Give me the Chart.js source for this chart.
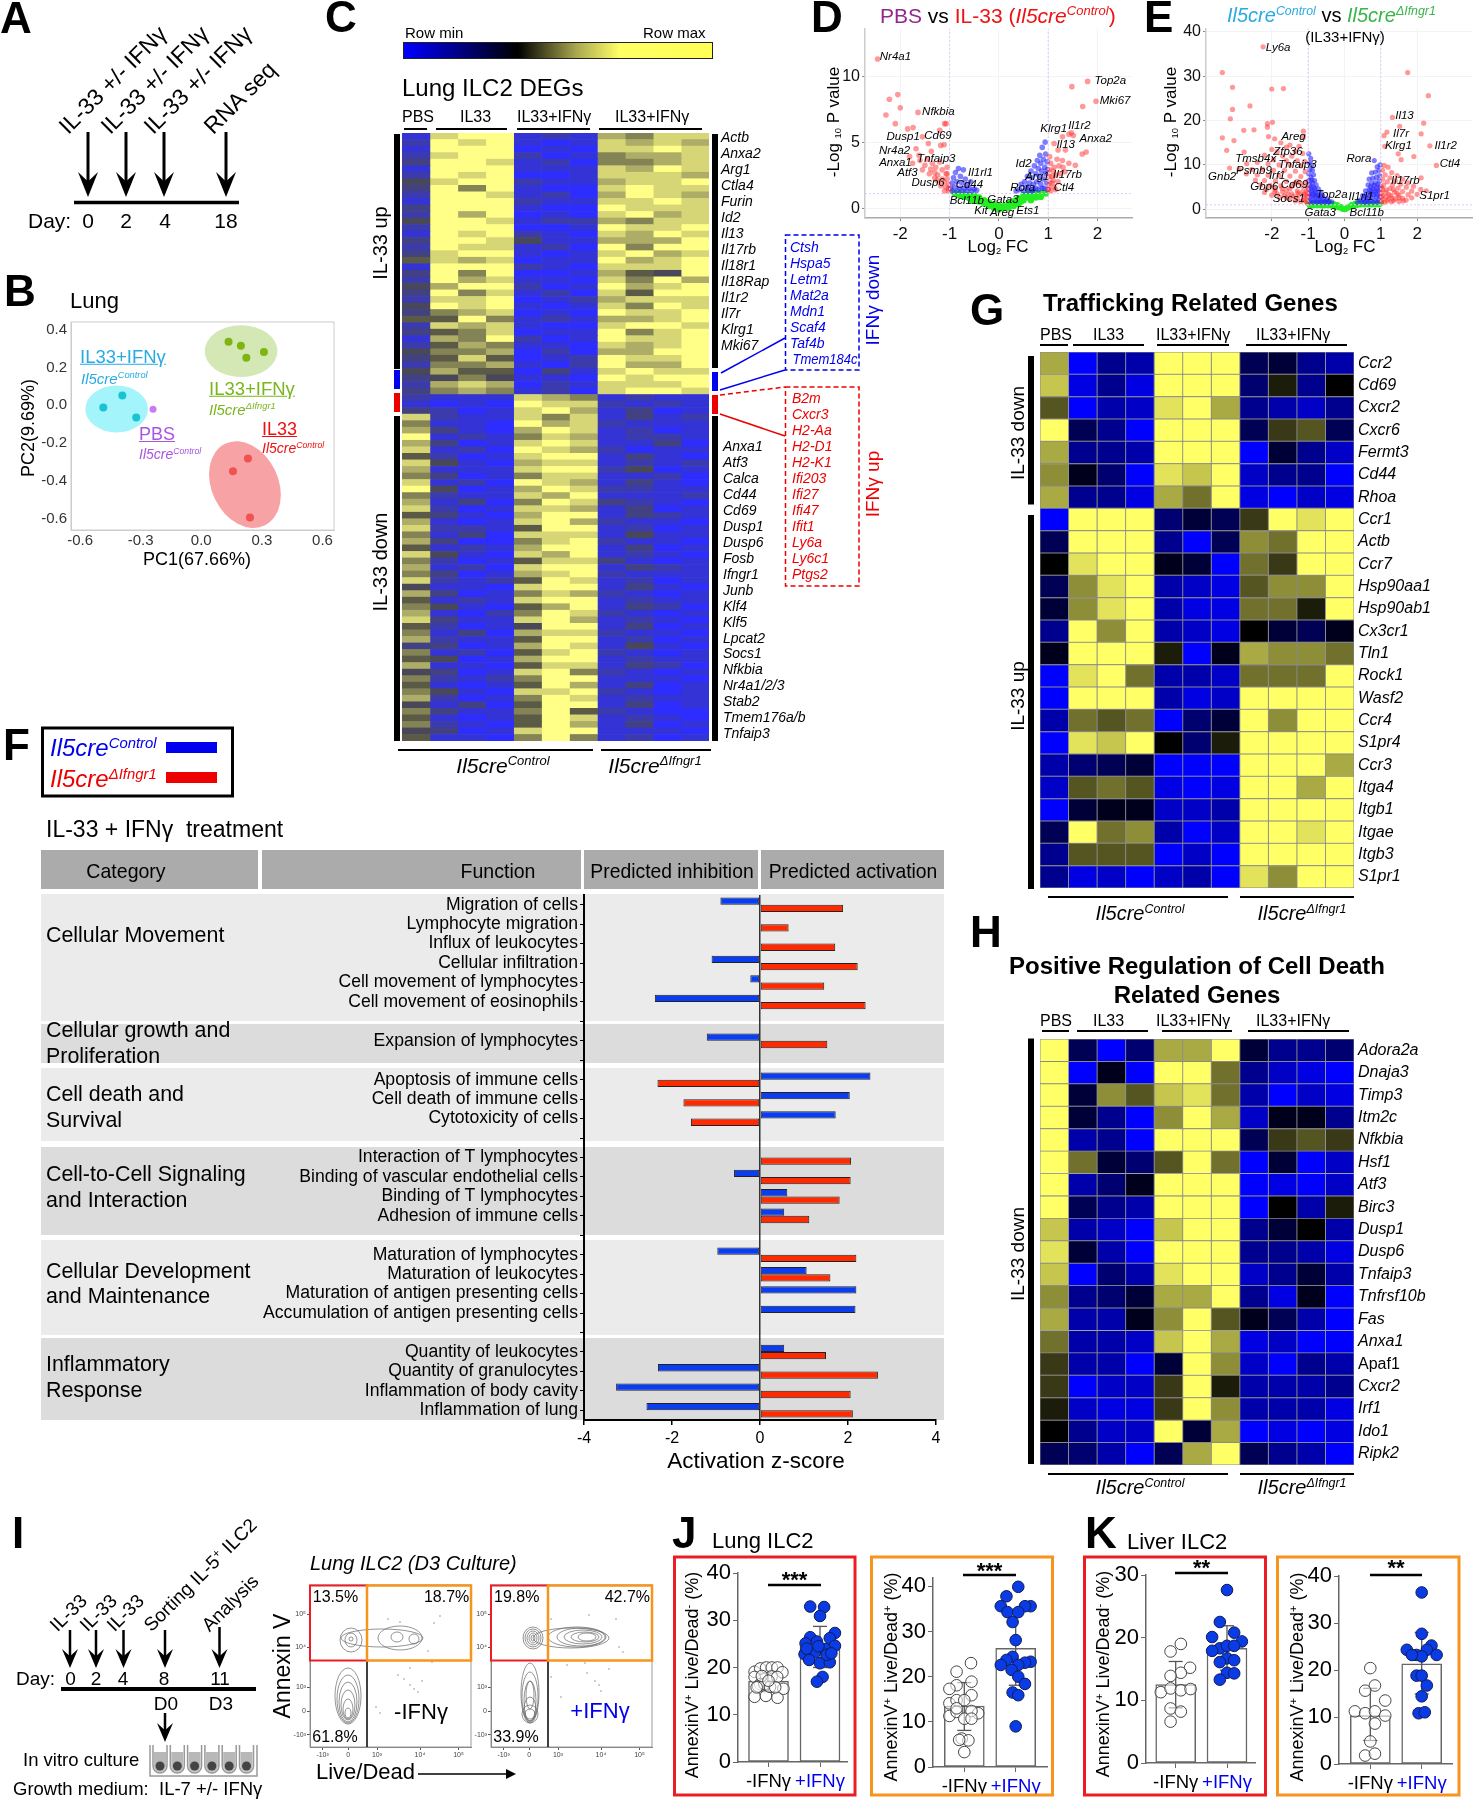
<!DOCTYPE html>
<html><head><meta charset="utf-8">
<script src="https://cdn.jsdelivr.net/npm/chart.js@4"></script>
<style>
html,body{margin:0;background:#fff}
#page{position:relative;width:1474px;height:1800px;overflow:hidden;font-family:'Liberation Sans',Arial,sans-serif;color:#000;background:#fff}
.t{position:absolute;white-space:nowrap;line-height:1;z-index:5}
.r{position:absolute}
sup{font-size:62%;line-height:0;vertical-align:.55em}
sub{font-size:55%;line-height:0;vertical-align:-.25em}
canvas{position:absolute}
svg{position:absolute;left:0;top:0;z-index:4;pointer-events:none}
</style></head><body><div id="page"></div>
<script>
// ---------- DATA ----------
// B: PCA
const pcaBlue=[[-.485,-.012],[-.391,.051],[-.322,-.065]];
const pcaPbs=[[-.239,-.022]];
const pcaGreen=[[.135,.335],[.196,.314],[.223,.251],[.31,.282]];
const pcaRed=[[.231,-.282],[.157,-.349],[.241,-.594]];
const pcaXTicks=[-.6,-.3,0,.3,.6], pcaYTicks=[.4,.2,0,-.2,-.4,-.6];
// C: large heat map, one digit per cell (0 = row min, 9 = row max)
const heatCRows=[
"1 899 121 7688","2 989 101 8787","1 999 010 8898","2 899 201 6778","3 998 120 6678","1 999 111 8798","2 989 001 8887","4 899 211 7889",
"3 969 100 8988","2 998 120 7987","1 999 211 8898","3 999 100 9888","2 979 010 8978","4 998 122 7688","2 999 001 9889","1 989 210 8798",
"3 998 411 7779","2 988 120 9699","3 899 101 8978","5 878 011 9789","1 999 210 8889","3 969 001 7549","2 978 110 8697","4 799 201 9789",
"3 968 120 8599","2 889 012 7888","4 989 101 8698","3 678 010 9889","5 596 121 7789","2 878 100 8998","3 568 011 9689","1 769 201 9889",
"2 576 110 8789","4 667 020 7799","3 585 012 9889","2 667 102 9779","4 755 031 8988","3 464 110 9899","2 787 021 8889","3 676 120 8998",
"2 111 876 1211","1 010 988 2121","3 201 897 1301",
"8 211 868 1312","6 110 978 2111","7 310 798 1201","9 121 687 1221","7 301 898 1130","8 120 987 2011","5 201 899 1310","8 410 788 1212",
"7 111 899 2401","6 301 688 1120","8 120 987 1310","9 401 798 2211","6 211 879 1112","7 130 698 3210","8 201 887 1301","5 310 799 1321",
"7 101 897 2110","8 221 599 1201","6 130 888 1411","7 300 689 2110","5 121 799 1301","8 410 879 1210","6 201 588 3101","7 120 899 1321",
"6 301 789 2111","8 212 598 1201","4 110 899 1310","7 301 687 2101","5 121 899 1211","6 410 579 1320","7 102 698 2101","8 311 897 1210",
"5 201 499 1301","6 130 788 2110","7 211 599 1201","3 301 798 1410","6 120 589 2101","5 401 799 1211","7 110 588 1320","4 301 896 2101",
"6 212 699 1110","5 101 597 1301","6 410 889 2101","7 201 698 1211","4 130 599 1301","6 311 695 2100","5 101 598 1210","6 210 597 1301",
"4 301 899 1110","5 110 696 1201"];
const genesCUp=["Actb","Anxa2","Arg1","Ctla4","Furin","Id2","Il13","Il17rb","Il18r1","Il18Rap","Il1r2","Il7r","Klrg1","Mki67"];
const genesCDown=["Anxa1","Atf3","Calca","Cd44","Cd69","Dusp1","Dusp6","Fosb","Ifngr1","Junb","Klf4","Klf5","Lpcat2","Socs1","Nfkbia","Nr4a1/2/3","Stab2","Tmem176a/b","Tnfaip3"];
const genesIfnDown=["Ctsh","Hspa5","Letm1","Mat2a","Mdn1","Scaf4","Taf4b","Tmem184c"];
const genesIfnUp=["B2m","Cxcr3","H2-Aa","H2-D1","H2-K1","Ifi203","Ifi27","Ifi47","Ifit1","Ly6a","Ly6c1","Ptgs2"];
// D: volcano
const dRed=[[-2.46,11.3],[-2.05,8.6],[-2.22,8.25],[-2.0,7.6],[-2.29,7.05],[-2.1,6.4],[-1.64,7.25],[-1.74,6.1],[-1.85,6.0],[-1.2,5.9],[-1.1,6.4],[-1.07,6.4],[-1.55,5.4],[-1.43,4.9],[-1.68,4.5],[-1.11,4.8],[-1.37,4.3],[-1.18,4.75],[-1.81,3.9],[-1.75,3.4],[-1.5,3.25],[-1.28,3.1],[-1.41,2.6],[-1.24,2.5],[-1.07,2.6],[-1.11,2.0],[-1.02,1.5],[-1.6,3.6],[-1.45,3.7],[-1.35,3.4],[-1.2,3.5],[-1.15,2.9],[-1.3,2.7],[-1.05,3.1],[-1.05,2.2],[-1.15,2.2],[-1.02,1.8],[-1.08,1.6],[-1.25,2.1],[-1.38,2.95],[-1.55,2.9],[-1.62,4.0],[-1.02,1.3],[-1.1,1.3],[-1.18,1.7],[-1.3,2.3],[-1.05,2.6],
[1.8,9.6],[1.48,9.2],[1.97,8.1],[1.7,7.7],[1.47,5.7],[1.51,5.5],[1.42,5.6],[1.29,5.4],[1.69,4.1],[1.77,4.25],[1.12,4.9],[1.2,4.4],[1.03,3.9],[1.29,3.6],[1.42,3.4],[1.55,3.25],[1.12,3.1],[1.25,2.6],[1.07,2.4],[1.03,1.9],[1.2,2],[1,1.4],[1.34,2.75],[1.12,1.6],[1.05,3.4],[1.18,3.7],[1.35,4.4],[1.02,2.9],[1.1,2.1],[1.15,1.4],[1.05,1.3],[1.02,1.6],[1.08,1.9],[1.15,2.5],[1.22,3.2],[1.3,3.1],[1.02,2.4],[1.1,2.8]];
const dBlue=[[-.98,1.5],[-.95,1.9],[-.92,2.3],[-.9,1.6],[-.88,2.7],[-.85,2.0],[-.82,3.0],[-.8,1.5],[-.78,2.4],[-.75,1.9],[-.72,2.9],[-.7,1.5],[-.68,2.2],[-.65,1.8],[-.6,1.5],[-.57,2.0],[-.5,1.45],[-.45,1.35],[-.95,1.3],[-.85,1.3],[-.75,1.3],[-.65,1.3],[-.55,1.3],
[.35,1.3],[.42,1.4],[.45,1.8],[.5,1.3],[.52,2.0],[.55,1.6],[.58,2.4],[.6,1.3],[.62,1.9],[.65,2.8],[.67,2.3],[.7,1.4],[.7,1.8],[.72,3.2],[.75,2.6],[.77,2.0],[.78,3.6],[.8,1.4],[.8,3.0],[.82,2.4],[.83,4.0],[.85,1.8],[.85,3.4],[.87,2.8],[.88,4.6],[.9,2.2],[.9,3.7],[.92,1.5],[.93,3.1],[.94,5.0],[.95,2.6],[.95,4.1],[.97,1.9],[.98,3.5],[.98,2.9],[.99,1.4],[.6,1.6],[.75,1.5],[.88,1.5],[.68,1.3]];
const dGreen=[[-.9,1.15],[-.8,1.1],[-.8,.95],[-.7,1.05],[-.7,.85],[-.6,1],[-.6,.75],[-.5,.95],[-.5,.7],[-.45,.55],[-.4,.8],[-.4,.5],[-.3,.6],[-.3,.35],[-.2,.45],[-.2,.15],[-.1,.3],[-.1,0],[0,.2],[0,-.1],[.1,.15],[.1,0],[.2,.4],[.2,.05],[.3,.5],[.3,.15],[.4,.75],[.4,.3],[.5,1],[.5,.6],[.6,1.15],[.6,.8],[.7,1.15],[.7,.95],[.8,1.15],[.9,1.15],[.85,1],[.95,1.1],[.55,.9],[.75,.8],[.65,.6],[.45,.5],[-.55,.6],[-.25,.3],[.25,.3],[.05,.05],[-.05,.1],[.35,.6],[.85,.85]];
const dLabels=[["Nr4a1",222,170],["Top2a",722,243],["Mki67",733,302],["Nfkbia",322,337],["Dusp1",240,410],["Cd69",321,408],["Nr4a2",220,454],["Tnfaip3",317,478],["Anxa1",222,488],["Atf3",250,518],["Dusp6",298,548],["Il1rl1",420,518],["Cd44",394,556],["Bcl11b",388,602],["Gata3",472,600],["Kit",421,634],["Areg",470,640],["Ets1",530,634],["Rora",518,563],["Arg1",552,530],["Id2",520,493],["Klrg1",590,387],["Il1r2",650,377],["Il13",618,435],["Anxa2",688,416],["Il17rb",622,525],["Ctl4",614,564]];
// E: volcano
const eRed=[[-2.24,36.6],[-3.36,30.8],[-3.08,27.5],[-2,27.1],[-1.68,27.2],[-2.6,23.3],[-3.08,22.5],[-3.14,20.4],[-1.98,19.6],[-2.12,19.3],[-2.12,18.5],[-2.77,17.8],[-2.49,17.9],[-3.36,16.1],[-3.04,15.5],[-3.24,13.3],[-2.09,16.4],[-1.92,15.9],[-1.13,17.6],[-1.13,16.3],[-2.76,12.9],[-3.16,9.3],[-2.69,10.3],[-1.75,15],[-1.5,14.5],[-1.6,14],[-1.25,14.2],[-2.0,13.5],[-1.85,13],[-1.35,13],[-1.15,12.6],[-2.2,12.2],[-1.7,12],[-1.45,12],[-1.95,11.2],[-1.6,11],[-1.3,11],[-1.1,10.8],[-2.4,10.6],[-2.1,10.3],[-1.8,10],[-1.5,10],[-1.2,9.8],[-2.9,9],[-2.55,9],[-2.25,9],[-1.95,8.8],[-1.65,8.8],[-1.35,8.6],[-1.08,8.5],[-2.7,8],[-2.4,7.8],[-2.1,7.7],[-1.8,7.6],[-1.5,7.5],[-1.2,7.4],[-2.45,6.6],[-2.2,6.5],[-1.9,6.4],[-1.6,6.3],[-1.3,6.3],[-1.05,6.2],[-2.3,5.5],[-2.05,5.4],[-1.75,5.3],[-1.45,5.2],[-1.15,5.2],[-2.15,4.5],[-1.9,4.4],[-1.6,4.3],[-1.3,4.2],[-1.05,4.2],[-1.85,3.5],[-1.55,3.4],[-1.25,3.3],[-1.05,3.2],[-1.6,2.6],[-1.3,2.5],[-1.1,2.4],[-1.2,1.8],[-1.05,1.7],[-1.4,3],[-1.7,3.9],[-1.95,5],[-1.15,4],[-1.02,2.8],
[-2.0,3.2],[-1.78,2.7],[-1.5,2.3],[-1.35,1.9],[-1.12,2.1],[-1.02,1.5],[-1.28,3.7],[-1.5,4.6],[-1.72,4.7],[-1.38,5.8],[-1.12,3.4],[-1.02,3.7],[-1.02,5],[-1.22,5.9],[-1.45,3.5],[-1.65,3.1],[-1.92,3.9],[-2.2,3.8],
[1.74,30.8],[2.31,25.6],[1.32,20.7],[1.52,18.7],[2.18,19.4],[2.11,17],[1.17,17.4],[1.09,16.6],[2.35,14.3],[1.11,14.2],[1.48,12.5],[1.91,11.9],[1.56,11.2],[2.53,9.9],[2.11,7.1],[1.09,9.9],[1.2,9.5],[1.05,8.8],[1.3,8.3],[1.12,7.8],[1.45,7.6],[1.25,7.1],[1.05,6.8],[1.6,6.8],[1.4,6.4],[1.18,6.2],[1.75,6],[1.55,5.7],[1.32,5.5],[1.08,5.5],[1.9,5.2],[1.7,5],[1.48,4.8],[1.25,4.7],[1.05,4.5],[2.1,4.5],[2.25,4.2],[1.85,4.1],[1.6,4],[1.38,3.9],[1.15,3.8],[2.0,3.4],[1.75,3.3],[1.5,3.2],[1.28,3.1],[1.05,3.1],[1.85,2.6],[1.6,2.5],[1.4,2.4],[1.2,2.3],[1.05,2.2],[1.5,1.8],[1.3,1.7],[1.1,1.6],[1.7,2.1],
[1.02,1.7],[1.18,1.9],[1.35,2],[1.62,1.9],[1.02,2.8],[1.15,2.8],[1.3,2.6],[1.5,2.6],[1.02,3.8],[1.22,3.4],[1.45,3.6],[1.02,5],[1.15,4.4],[1.35,4.5]];
const eBlue=[[-.98,12.5],[-.93,11.5],[-.97,10.5],[-.9,10],[-.95,9],[-.88,8.8],[-.98,8],[-.85,7.8],[-.92,7.2],[-.98,6.5],[-.82,6.5],[-.88,6],[-.95,5.5],[-.78,5.5],[-.85,5],[-.98,4.6],[-.72,4.6],[-.9,4.2],[-.8,4],[-.65,3.9],[-.97,3.5],[-.85,3.3],[-.72,3.2],[-.6,3.1],[-.95,2.7],[-.82,2.6],[-.7,2.5],[-.58,2.4],[-.48,2.3],[-.95,2],[-.83,2],[-.72,1.9],[-.62,1.9],[-.52,1.9],[-.42,1.8],[-.35,1.7],[-.95,1.6],[-.85,1.6],[-.75,1.6],[-.65,1.6],[-.55,1.6],[-.45,1.6],[-.9,3],[-.78,3],[-.66,2.9],[-.9,3.8],[-.78,3.6],[-.92,5],[-.82,4.6],[-.9,6.6],
[.98,10],[.9,9.6],[.82,11],[.95,8.8],[.85,8.4],[.75,8.2],[.97,7.6],[.88,7.2],[.78,7],[.68,6.8],[.96,6.4],[.85,6],[.75,5.8],[.65,5.5],[.98,5.2],[.88,4.9],[.78,4.7],[.68,4.4],[.58,4.2],[.95,4.1],[.85,3.8],[.72,3.6],[.6,3.4],[.5,3.1],[.97,3],[.88,2.8],[.76,2.7],[.64,2.5],[.52,2.3],[.42,2.1],[.95,2.1],[.85,2],[.72,1.9],[.6,1.8],[.48,1.7],[.36,1.6],[.92,1.6],[.8,1.6],[.66,1.6],[.55,1.6],[.9,3.3],[.8,3.3],[.7,3],[.58,2.8],[.92,4.4],[.82,4.2],[.72,4.1],[.92,5.6],[.82,5.4],[.72,5.1]];
const eGreen=[[-1,1.4],[-.9,1.4],[-.8,1.4],[-.7,1.4],[-.6,1.4],[-.5,1.4],[-.4,1.3],[-.3,1.2],[-.2,1],[-.1,.6],[-.95,.9],[-.85,.9],[-.75,.9],[-.65,.9],[-.55,.9],[-.45,.9],[-.35,.8],[-.25,.6],[-.15,.4],[-.05,.1],[0,.05],[.05,.15],[.15,.5],[.25,.8],[.35,1],[.45,1.1],[.55,1.1],[.65,1.1],[.75,1.1],[.85,1.1],[.95,1.1],[.1,.6],[.2,1],[.3,1.3],[.4,1.4],[.5,1.4],[.6,1.4],[.7,1.4],[.8,1.4],[.9,1.4],[1,1.4]];
const eLabels=[["Ly6a",1112,145],["Il13",1406,347],["Il7r",1398,402],["Klrg1",1392,438],["Il1r2",1502,437],["Ctl4",1512,491],["Areg",1148,412],["Zfp36",1135,455],["Tmsb4x",1060,478],["Tnfaip3",1157,496],["Rora",1300,478],["Psmb9",1056,512],["Gnb2",982,530],["Irf1",1110,527],["Il17rb",1408,542],["Gbp6",1080,560],["Cd69",1150,556],["Top2a",1237,586],["Il1rl1",1305,592],["S1pr1",1476,588],["Socs1",1137,597],["Gata3",1210,638],["Bcl11b",1318,640]];
// F: bars
const fLabels=["Migration of cells","Lymphocyte migration","Influx of leukocytes","Cellular infiltration","Cell movement of lymphocytes","Cell movement of eosinophils","","Expansion of lymphocytes","","Apoptosis of immune cells","Cell death of immune cells","Cytotoxicity of cells","","Interaction of T lymphocytes","Binding of vascular endothelial cells","Binding of T lymphocytes","Adhesion of immune cells","","Maturation of lymphocytes","Maturation of leukocytes","Maturation of antigen presenting cells","Accumulation of antigen presenting cells","","Quantity of leukocytes","Quantity of granulocytes","Inflammation of body cavity","Inflammation of lung"];
const fControl=[-.9,null,null,-1.1,-.22,-2.39,null,-1.21,null,2.51,2.04,1.72,null,null,-.59,.62,.55,null,-.97,1.06,2.19,2.17,null,.55,-2.32,-3.27,-2.58];
const fKO=[1.89,.65,1.71,2.22,1.46,2.4,null,1.53,null,-2.33,-1.74,-1.57,null,2.07,2.06,1.81,1.12,null,2.19,1.6,null,null,null,1.5,2.68,2.06,2.11];
const fXTicks=[-4,-2,0,2,4];
// G / H: heat maps (-9 = blue, 0 = black, 9 = yellow)
const genesG=["Ccr2","Cd69","Cxcr2","Cxcr6","Fermt3","Cd44","Rhoa","Ccr1","Actb","Ccr7","Hsp90aa1","Hsp90ab1","Cx3cr1","Tln1","Rock1","Wasf2","Ccr4","S1pr4","Ccr3","Itga4","Itgb1","Itgae","Itgb3","S1pr1"];
const heatG=[[6,-9,-5,-6,9,9,9,-3,-2,-5,-6],[7,-8,-5,-8,9,9,9,-4,1,-5,0],[3,-9,-6,-7,8,9,6,-5,-6,-7,-5],[9,-3,-5,-9,9,9,9,-3,2,3,-3],[6,-5,-5,-6,9,9,9,-9,-2,-5,-7],[5,-1,-4,-9,8,7,9,-7,-5,-5,-9],[6,-5,-5,-8,6,4,9,-8,-9,-7,-8],
[-9,9,9,9,-4,-2,-3,2,9,8,9],[-3,9,9,9,-5,-9,-3,5,4,9,9],[0,8,9,9,-1,-2,-9,4,2,9,9],[-3,5,8,9,-6,-7,-8,3,5,5,9],[-2,5,8,9,-6,-8,-8,4,4,1,9],[-5,9,5,9,-6,-7,-8,0,-2,-3,-1],[-1,9,9,9,1,-9,-1,6,5,5,4],[-9,8,9,4,-6,-6,-7,4,4,4,9],[-9,9,9,9,-6,-8,-7,9,9,9,9],[-6,4,3,4,-9,-4,-2,9,5,9,9],[-9,8,7,9,0,-4,1,9,9,9,9],[-6,-4,-3,-2,-9,-9,-9,9,9,9,6],[-7,3,4,3,-8,-9,-8,9,9,6,9],[-9,-2,-1,-1,-7,-7,-6,9,9,9,9],[-3,9,4,5,-6,-9,-7,9,9,8,9],[-5,3,3,3,-9,-7,-9,9,9,9,9],[-5,-8,-7,-9,-7,-6,-9,8,5,9,9]];
const genesH=["Adora2a","Dnaja3","Timp3","Itm2c","Nfkbia","Hsf1","Atf3","Birc3","Dusp1","Dusp6","Tnfaip3","Tnfrsf10b","Fas","Anxa1","Apaf1","Cxcr2","Irf1","Ido1","Ripk2"];
const heatH=[[9,-3,-9,-4,6,6,9,-2,-5,-5,-4],[9,-9,-1,-9,9,9,4,-5,-7,-8,-9],[9,-2,5,3,7,8,4,-6,-9,-7,-8],[9,-2,-5,-9,5,9,6,-7,-1,-1,-5],[9,-6,-5,-9,9,9,9,-3,2,3,2],[9,4,-2,-4,3,9,4,-9,-2,-9,-7],[9,-6,-4,-1,9,9,9,-9,-8,-9,-7],[9,-3,-5,-6,9,9,9,-9,0,-6,1],[7,-6,-7,-9,7,9,9,-5,-2,0,-6],[8,-2,-6,-9,9,9,9,-5,-5,-6,-8],[7,-9,-4,-6,8,9,9,-7,-5,-2,-6],[5,-5,-4,-2,6,6,9,-5,-8,-1,-9],[6,-6,-6,-1,5,9,3,-1,-3,-6,-9],[4,-6,-6,-7,7,9,6,-8,-7,-9,-9],[2,-6,-6,-9,-2,9,5,-7,-9,-5,-6],[2,-9,-7,-7,2,9,1,-6,-6,-6,-5],[1,-7,-8,-8,2,9,5,-6,-6,-6,-8],[0,-5,-7,-7,9,-2,6,-9,-8,-9,-8],[-3,-4,-6,-9,-3,6,9,-3,-5,-6,-9]];
// I: flow plots
const flowXTicks=[12.6,38.3,67,110,148.5], flowYTicks=[12.3,35.6,59.6,100,133];
const flowXLabels=["-10³","0","10³","10⁴","10⁵"], flowYLabels=["-10³","0","10³","10⁴","10⁵"];
const flowEllA=[[38,51,13,28],[38,48,11,24],[38,45,9,20],[38,42,7,15],[38,38,5,10],[38,34,3,5],[41,107,11,12],[41,107,6,7],[41,108,2,2],[72,109,41,9],[87,110,6,5],[104,108,5,5],[90,109,22,12]];
const flowEllB=[[39,54,9,30],[39,50,8,25],[39,46,6,20],[39,52,4,14],[39,38,6,12],[39,33,8,9],[39,33,5,5],[42,109,10,11],[42,109,8,9],[42,109,6,7],[42,109,4,5],[42,109,2,3],[86,110,29,10],[90,110,24,9],[92,110,19,7],[94,110,14,5],[96,110,9,4],[80,109,38,10]];
const flowDotsA=[[78,128],[90,125],[124,124],[130,131],[88,72],[94,68],[100,62],[104,58],[108,55],[112,66],[100,79],[70,34],[66,40],[122,85],[118,96]];
const flowDotsB=[[60,128],[98,132],[125,128],[128,100],[132,95],[96,74],[104,66],[108,62],[94,84],[76,82],[110,56],[118,78],[60,70],[70,50]];
// J / K: bars and dots
const groupLabels=["-IFNγ","+IFNγ"];
const j1Means=[17.1,24.3], j1Err=[[14.9,19.3],[20,28.7]], j1Ticks=[0,10,20,30,40];
const j1Open=[[-.27,19.1],[-.16,19.8],[-.045,20],[.065,20],[.175,20],[.27,19],[-.27,13.8],[-.05,14],[.175,13.6],[.29,15.5],[-.27,18],[-.16,16.5],[-.2,16],[-.08,16.5],[.06,18.1],[.17,18],[.03,15.9],[-.23,15.8],[.13,15.8],[-.13,18.2],[0,17.2]];
const j1Fill=[[-.19,32.9],[.08,32.8],[0,30.9],[.29,27.3],[.19,26.2],[-.19,26.4],[-.06,25.5],[-.28,25.1],[.29,24.6],[.1,23.9],[-.1,23.2],[-.3,22.8],[-.21,21.6],[0,20.9],[.19,21.1],[.05,18],[-.06,17],[-.26,24],[.13,22.7],[-.03,24.5],[.22,23]];
const j2Means=[13.5,26.3], j2Err=[[8.1,18.7],[18.1,34.5]], j2Ticks=[0,10,20,30,40];
const j2Open=[[.13,23],[-.15,21.1],[.14,18.9],[-.15,18.1],[-.29,17.3],[.14,15.9],[-.29,14.1],[-.15,14.8],[0,14.8],[.27,11.9],[.14,12.4],[-.29,11.3],[-.15,12.2],[0,10.7],[.14,10.7],[-.15,13],[-.05,6.3],[.08,5.9],[-.1,6],[0,3.3]];
const j2Fill=[[.05,39.9],[-.18,37.8],[-.29,35.6],[.29,35.6],[.18,35.6],[-.16,34.3],[.05,34.3],[-.06,32.1],[0,28.1],[-.06,24.4],[-.18,23.7],[-.29,22.6],[.29,23.3],[.18,23.1],[.05,22.6],[-.08,21.5],[.05,20],[.18,18.4],[-.06,16.5],[.05,15.9],[0,9]];
const k1Means=[12.5,18.3], k1Err=[[8.8,16.2],[14.8,21.9]], k1Ticks=[0,10,20,30];
const k1Open=[[.1,19],[-.1,17.8],[.28,15.2],[.1,14.4],[-.1,13.9],[-.29,11.3],[-.1,11.9],[.1,11.6],[.29,11.8],[-.1,8.7],[.1,8.2],[-.1,6.6]];
const k1Fill=[[0,27.6],[-.14,22.5],[.14,20.8],[-.29,20.1],[.29,19.4],[-.14,18.3],[0,18.7],[.14,18.7],[-.29,17.9],[0,16.7],[-.14,16.1],[.14,16.4],[0,14.4],[.14,14.3],[-.14,13.3]];
const k2Means=[10.3,21.3], k2Err=[[5,16.1],[14.9,28]], k2Ticks=[0,10,20,30,40];
const k2Open=[[0,20.4],[.09,16.7],[-.1,15.6],[.29,13.5],[-.3,11.2],[-.1,10.8],[.09,11.2],[.29,10.3],[.09,8.6],[0,4.8],[-.1,1.8],[.09,2.2]];
const k2Fill=[[0,36.5],[0,27.7],[-.29,24.3],[.19,25.2],[.1,24.3],[-.1,23.2],[.29,23.2],[0,22.9],[-.19,23.2],[-.1,18.8],[0,18.8],[.1,16.7],[0,14.4],[-.06,10.8],[.06,11]];

// ---------- HELPERS ----------
const page=document.getElementById('page');
Chart.defaults.font.family="'Liberation Sans',Arial,sans-serif";
Chart.defaults.color='#000';
const ctrl='<i>Il5cre<sup>Control</sup></i>', ko='<i>Il5cre<sup>ΔIfngr1</sup></i>';
function T(x,y,html,o={}){
  const d=document.createElement('div');d.className='t';d.innerHTML=html;
  const tx={l:'0',c:'-50%',r:'-100%'}[o.a||'l'];
  let tf=`translate(${tx},-50%)`;
  if(o.r!==undefined){tf+=` rotate(${o.r}deg)`; d.style.transformOrigin=(o.a==='c')?'50% 50%':'0 50%';}
  if(o.sx){tf+=` scale(${o.sx},1)`;}
  d.style.cssText+=`;left:${x}px;top:${y}px;font-size:${o.s||16}px;color:${o.c||'#000'};transform:${tf};`+(o.b?'font-weight:bold;':'')+(o.i?'font-style:italic;':'')+(o.u?'text-decoration:underline;':'');
  page.appendChild(d);
}
function R(x,y,w,h,c){const d=document.createElement('div');d.className='r';d.style.cssText=`left:${x}px;top:${y}px;width:${w}px;height:${h}px;background:${c}`;page.appendChild(d);return d;}
let svg='';
function L(x1,y1,x2,y2,c='#000',w=2,dash){svg+=`<line x1="${x1}" y1="${y1}" x2="${x2}" y2="${y2}" stroke="${c}" stroke-width="${w}" ${dash?`stroke-dasharray="${dash}"`:''}/>`;}
function Box(x,y,w,h,c,sw,dash,fill){svg+=`<rect x="${x}" y="${y}" width="${w}" height="${h}" fill="${fill||'none'}" stroke="${c}" stroke-width="${sw}" ${dash?`stroke-dasharray="${dash}"`:''}/>`;}
function Arrow(x,y1,y2,hw,hl,sw=3){L(x,y1,x,y2-hl*.6,'#000',sw);svg+=`<path d="M${x-hw} ${y2-hl}L${x} ${y2-hl*.62}L${x+hw} ${y2-hl}L${x} ${y2}Z" fill="#000"/>`;}
const setTicks=arr=>(s=>{s.ticks=arr.map(v=>({value:v}));});
function mk(px,py,pw,ph,pad,cfg){
  const [l,r,t,b]=pad,c=document.createElement('canvas');
  const W=Math.round(pw+l+r),H=Math.round(ph+t+b);
  c.width=W;c.height=H;c.style.cssText=`left:${px-l}px;top:${py-t}px;width:${W}px;height:${H}px`;
  page.appendChild(c);
  const o=cfg.options=cfg.options||{};
  o.responsive=false;o.animation=false;o.devicePixelRatio=1;
  o.plugins=Object.assign({legend:{display:false},tooltip:{enabled:false}},o.plugins||{});
  const sx=o.scales.x,sy=o.scales.y,right=sy.position==='right',showY=sy.display!==false,showX=sx.display!==false;
  if(showY)sy.afterFit=s=>{s.width=right?r:l;};
  if(showX)sx.afterFit=s=>{s.height=b;};
  o.layout={padding:{top:t,bottom:showX?0:b,left:(showY&&!right)?0:l,right:(showY&&right)?0:r}};
  return new Chart(c,cfg);
}
const xy=a=>a.map(p=>({x:p[0],y:p[1]}));
function ellipsePlugin(list){return{id:'ell'+list.length,beforeDatasetsDraw(ch){
  const c=ch.ctx,X=ch.scales.x,Y=ch.scales.y;
  list.forEach(e=>{c.save();c.beginPath();
    c.ellipse(X.getPixelForValue(e.x),Y.getPixelForValue(e.y),Math.abs(X.getPixelForValue(e.x+e.rx)-X.getPixelForValue(e.x)),Math.abs(Y.getPixelForValue(e.y+e.ry)-Y.getPixelForValue(e.y)),e.rot||0,0,Math.PI*2);
    if(e.fill){c.fillStyle=e.fill;c.fill();}
    if(e.stroke){c.strokeStyle=e.stroke;c.lineWidth=e.lw||.7;c.stroke();}
    c.restore();});
}};}
function heatChart(px,py,pw,ph,r,labels,rows,colorFn,border,fontSize){
  const nCol=rows[0].length,ds=[];
  for(let j=0;j<nCol;j++)ds.push({data:rows.map(()=>1),backgroundColor:rows.map(row=>colorFn(row[j])),borderColor:border||'transparent',borderWidth:border?.8:0,borderSkipped:false,barPercentage:1,categoryPercentage:1,stack:'s'});
  const showY=!!fontSize,v=showY?14:0;
  mk(px,py,pw,ph,[0,r,v,v],{type:'bar',data:{labels,datasets:ds},options:{indexAxis:'y',scales:{
    x:{display:false,stacked:true,min:0,max:nCol},
    y:{display:showY,position:'right',stacked:true,grid:{display:false,drawTicks:false},border:{display:false},ticks:{autoSkip:false,padding:4,font:c=>({size:fontSize||10,style:labels[c.index]==='Apaf1'?'normal':'italic'})}}
  }}});
}
const heatColor=v=>{if(v<0)return`rgb(0,0,${Math.round(255*-v/9)})`;const t=v/9;return`rgb(${Math.round(255*t)},${Math.round(255*t)},${Math.round(102*t)})`;};
const heatCColor=d=>{const lerp=(a,b,t)=>a.map((v,i)=>Math.round(v+(b[i]-v)*t));const c=d<=4?lerp([45,45,255],[72,72,90],d/4):lerp([90,90,70],[255,255,135],(d-5)/4);return`rgb(${c})`;};

// ---------- A ----------
T(0,18,'A',{s:44,b:1});
[[63,"IL-33 +/- IFNγ"],[105,"IL-33 +/- IFNγ"],[148,"IL-33 +/- IFNγ"],[208,"RNA seq"]].forEach(a=>T(a[0],130,a[1],{s:23,r:-45}));
[88,126,164,226].forEach(x=>Arrow(x,132,197,10,25));
L(74,202.5,239,202.5,'#000',3.5);
T(28,220,'Day:',{s:21});[[88,'0'],[126,'2'],[165,'4'],[226,'18']].forEach(a=>T(a[0],220,a[1],{s:21,a:'c'}));

// ---------- B ----------
T(4,291,'B',{s:44,b:1});T(70,301,'Lung',{s:22});
mk(71,322,263,208,[40,14,14,28],{type:'scatter',
  data:{datasets:[
    {data:xy(pcaBlue),backgroundColor:'#19c3d2',pointRadius:4,pointBorderWidth:0},
    {data:xy(pcaPbs),backgroundColor:'#c77cf5',pointRadius:3.5,pointBorderWidth:0},
    {data:xy(pcaGreen),backgroundColor:'#7fb50e',pointRadius:4,pointBorderWidth:0},
    {data:xy(pcaRed),backgroundColor:'#f0524f',pointRadius:4,pointBorderWidth:0}]},
  plugins:[ellipsePlugin([{x:-.419,y:-.02,rx:.155,ry:.124,fill:'#a3f4fb'},{x:.197,y:.286,rx:.18,ry:.137,fill:'#d3e8b4'},{x:.216,y:-.42,rx:.165,ry:.24,rot:-.45,fill:'#f7a3a5'}])],
  options:{scales:{
    x:{min:-.645,max:.657,grid:{display:false,drawTicks:false},border:{color:'#ccc'},afterBuildTicks:setTicks(pcaXTicks),ticks:{font:{size:15},padding:2,color:'#333',callback:v=>v.toFixed(1),maxRotation:0}},
    y:{min:-.66,max:.44,grid:{display:false,drawTicks:false},border:{color:'#ccc'},afterBuildTicks:setTicks(pcaYTicks),ticks:{font:{size:15},padding:4,color:'#333',callback:v=>v.toFixed(1)}}
  }}});
Box(71,322,263,208,'#ccc',1);
T(28,428,'PC2(9.69%)',{s:18,a:'c',r:-90});T(197,559,'PC1(67.66%)',{s:18,a:'c'});
T(80,357,'IL33+IFNγ',{s:18.5,c:'#29abe2',u:1});T(81,378,ctrl,{s:15,c:'#29abe2'});
T(209,389,'IL33+IFNγ',{s:18.5,c:'#7ab51d',u:1});T(209,408.5,ko,{s:15,c:'#7ab51d'});
T(139,434,'PBS',{s:18,c:'#a855e0',u:1});T(139,454,ctrl,{s:14,c:'#a855e0'});
T(262,428.5,'IL33',{s:18,c:'#ee1111',u:1});T(262,448,ctrl,{s:14,c:'#ee1111'});

// ---------- C ----------
T(325,17,'C',{s:44,b:1});
T(405,32,'Row min',{s:15});T(643,32,'Row max',{s:15});
const cb=R(403,42,308,15,'#000');cb.style.background='linear-gradient(90deg,#00f 0,#000 37%,#aaa850 56%,#ffff66 70%,#ffff55 100%)';cb.style.border='1px solid #222';
T(402,88,'Lung ILC2 DEGs',{s:24});
[[402,'PBS'],[460,'IL33'],[517,'IL33+IFNγ'],[615,'IL33+IFNγ']].forEach(a=>T(a[0],117,a[1],{s:16}));
[[404,427],[436,507],[517,590],[599,702]].forEach(a=>L(a[0],129,a[1],129,'#000',2));
heatChart(402,133,307,608,0,heatCRows.map((_,i)=>String(i+1)),heatCRows.map(s=>s.replace(/ /g,'').split('').map(Number)),heatCColor);
L(397,134,397,369,'#000',6);L(397,370,397,389,'#0000ee',6);L(397,393,397,412,'#ee0000',6);L(397,416,397,741,'#000',6);
L(715,134,715,368,'#000',6);L(715,372,715,391,'#0000ee',6);L(715,395,715,414,'#ee0000',6);L(715,416,715,741,'#000',6);
T(380,243,'IL-33 up',{s:20,a:'c',r:-90});T(380,562,'IL-33 down',{s:20,a:'c',r:-90});
genesCUp.forEach((g,i)=>T(721,137+i*16,g,{s:14,i:1}));
genesCDown.forEach((g,i)=>T(723,446+i*15.96,g,{s:14,i:1}));
Box(785.5,235,73.5,135,'#0000ee',1.5,'5 3');Box(785.5,387,73.5,199,'#ee0000',1.5,'5 3');
genesIfnDown.forEach((g,i)=>T(790,246.7+i*16,g,{s:14,i:1,c:'#0000ee',sx:g.length>7?.93:undefined}));
genesIfnUp.forEach((g,i)=>T(792,398.3+i*16,g,{s:14,i:1,c:'#ee0000'}));
L(721,373,785,338,'#0000ee',1.5);L(720,390,785,370,'#0000ee',1.5);L(720,395,785,387,'#ee0000',1.5,'5 3');L(720,414,785,436,'#ee0000',1.5);
T(872,300,'IFNγ down',{s:19,a:'c',r:-90,c:'#0000ee'});T(872,484,'IFNγ up',{s:19,a:'c',r:-90,c:'#ee0000'});
L(398,750,593,750,'#000',2);L(601,750,711,750,'#000',2);
T(503,765,ctrl,{s:21,a:'c'});T(655,765,ko,{s:21,a:'c'});

// ---------- D / E ----------
function volcano(px,pw,py,ph,xr,yr,xt,yt,red,blue,green,hline,vline,rad){
  const thresh=(pts)=>({type:'scatter',data:xy(pts),showLine:true,borderColor:'#e3c8f7',borderWidth:1,borderDash:[2,2],pointRadius:0});
  mk(px,py,pw,ph,[34,8,10,24],{type:'scatter',data:{datasets:[
    thresh([[vline[0],yr[0]],[vline[0],yr[1]]]),thresh([[vline[1],yr[0]],[vline[1],yr[1]]]),thresh([[xr[0],hline],[xr[1],hline]]),
    {data:xy(red),backgroundColor:'rgba(255,50,50,.5)',pointRadius:rad,pointBorderWidth:0},
    {data:xy(blue),backgroundColor:'rgba(40,40,255,.6)',pointRadius:rad,pointBorderWidth:0},
    {data:xy(green),backgroundColor:'#22ee22',pointRadius:rad+.4,pointBorderWidth:0}]},
  options:{scales:{
    x:{min:xr[0],max:xr[1],grid:{color:'#f3f3f3',tickColor:'#888',tickLength:3},border:{color:'#aaa',width:1.5},afterBuildTicks:setTicks(xt),ticks:{font:{size:17},padding:3,color:'#111',maxRotation:0}},
    y:{min:yr[0],max:yr[1],grid:{color:'#f3f3f3',tickColor:'#888',tickLength:3},border:{color:'#ccc',width:1.5},afterBuildTicks:setTicks(yt),ticks:{font:{size:16},padding:2,color:'#111'}}
  }}});
}
const dVLines=[-1,1],dXTicks=[-2,-1,0,1,2],dYTicks=[0,5,10],eVLines=[-1,1],eXTicks=[-2,-1,0,1,2],eYTicks=[0,10,20,30,40];
volcano(865,267,27,191,[-2.715,2.7],[-.75,13.6],dXTicks,dYTicks,dRed,dBlue,dGreen,1.1,dVLines,2.8);
volcano(1206,266,27,191,[-3.81,3.51],[-1.94,40.7],eXTicks,eYTicks,eRed,eBlue,eGreen,1.04,eVLines,2.6);
T(811,17,'D',{s:44,b:1});T(1144,17,'E',{s:44,b:1});
T(880,15,'<span style="color:#93278f">PBS</span> vs <span style="color:#ee1111">IL-33 (<i>Il5cre<sup>Control</sup></i>)</span>',{s:21});
T(1227,15,'<span style="color:#29abe2"><i>Il5cre<sup>Control</sup></i></span> vs <span style="color:#39b54a"><i>Il5cre<sup>ΔIfngr1</sup></i></span>',{s:20});
T(1345,36,'(IL33+IFNγ)',{s:15,a:'c'});
dLabels.forEach(a=>T(800+a[1]/2.326,a[2]/3,a[0],{s:11.5,i:1,a:'c'}));
eLabels.forEach(a=>T(800+a[1]/2.326,a[2]/3,a[0],{s:11.5,i:1,a:'c'}));
T(833,122,'-Log <sub>10</sub> P value',{s:17,a:'c',r:-90});T(1170,122,'-Log <sub>10</sub> P value',{s:17,a:'c',r:-90});
T(998,246,'Log<sub>2</sub> FC',{s:17,a:'c'});T(1345,246,'Log<sub>2</sub> FC',{s:17,a:'c'});

// ---------- F ----------
T(3,745,'F',{s:44,b:1});
Box(42.5,728,190,68,'#000',3);
T(50,748,ctrl,{s:24,c:'#0000ee'});R(166,742,51,11,'#0000ee');
T(50,779,ko,{s:24,c:'#ee0000'});R(166,772,51,11,'#ee0000');
T(46,829,'IL-33 + IFNγ&nbsp;&nbsp;treatment',{s:23});
[[41,217],[262,319],[584,173.6],[760.6,183.4]].forEach(a=>R(a[0],850,a[1],39,'#ababab'));
T(126,870,'Category',{s:21,a:'c',sx:.93});T(498,870,'Function',{s:21,a:'c',sx:.93});T(672,870,'Predicted inhibition',{s:21,a:'c',sx:.92});T(853,870,'Predicted activation',{s:21,a:'c',sx:.92});
[[893.7,1021,'#ebebeb'],[1024,1063.3,'#dcdcdc'],[1067.7,1140.7,'#ebebeb'],[1147.3,1235,'#dcdcdc'],[1240,1335,'#ebebeb'],[1338,1420,'#dcdcdc']].forEach(a=>R(41,a[0],903,a[1]-a[0],a[2]));
[['Cellular Movement',936],['Cellular growth and',1031],['Proliferation',1057],['Cell death and',1095],['Survival',1121],['Cell-to-Cell Signaling',1175],['and Interaction',1201],['Cellular Development',1272],['and Maintenance',1297],['Inflammatory',1365],['Response',1391]].forEach(a=>T(46,a[1],a[0],{s:21.4}));
const fBar=(data,c)=>({data,backgroundColor:c,borderColor:'#222',borderWidth:1,borderSkipped:false,barPercentage:1,categoryPercentage:.75});
mk(584,895,352,525,[330,14,16,32],{type:'bar',data:{labels:fLabels,datasets:[fBar(fControl,'#0a3cf0'),fBar(fKO,'#ff2a00')]},
  options:{indexAxis:'y',scales:{
    x:{min:-4,max:4,afterBuildTicks:setTicks(fXTicks),grid:{color:c=>c.tick&&c.tick.value===0?'#333':'rgba(0,0,0,0)',tickColor:'#000',tickLength:5,lineWidth:1.5},border:{color:'#000',width:2},ticks:{font:{size:16},padding:4,maxRotation:0}},
    y:{grid:{offset:false,drawOnChartArea:false,color:'#000',tickLength:4},border:{color:'#000',width:2},ticks:{autoSkip:false,font:{size:17.6},padding:2}}
  }}});
T(756,1461,'Activation z-score',{s:22.5,a:'c'});

// ---------- G / H ----------
T(970,310,'G',{s:44,b:1});T(970,932,'H',{s:44,b:1});
T(1043,303,'Trafficking Related Genes',{s:24,b:1});
function heatHeader(yT,yL,segs){[[1040,'PBS'],[1093,'IL33'],[1156,'IL33+IFNγ'],[1256,'IL33+IFNγ']].forEach(a=>T(a[0],yT,a[1],{s:16}));segs.forEach(a=>L(a[0],yL,a[1],yL,'#000',2));}
heatHeader(335,345,[[1040,1068],[1073,1144],[1157,1229],[1246,1347]]);
heatChart(1040,352,314,536,100,genesG,heatG,heatColor,'#8a8a8a',16);
L(1031,356,1031,504.5,'#000',6);L(1031,515,1031,889,'#000',6);
T(1017,433,'IL-33 down',{s:19,a:'c',r:-90});T(1017,696,'IL-33 up',{s:19,a:'c',r:-90});
L(1048,897,1228,897,'#000',2);L(1240,897,1354,897,'#000',2);
T(1140,913,ctrl,{s:20,a:'c'});T(1302,913,ko,{s:20,a:'c'});
T(1197,966,'Positive Regulation of Cell Death',{s:24,b:1,a:'c'});T(1197,995,'Related Genes',{s:24,b:1,a:'c'});
heatHeader(1021,1031,[[1042,1069],[1077,1148],[1162,1232],[1248,1349]]);
heatChart(1040,1038.5,314,426,100,genesH,heatH,heatColor,'#8a8a8a',16);
L(1031,1038.5,1031,1464,'#000',6);
T(1017,1254,'IL-33 down',{s:19,a:'c',r:-90});
L(1048,1474,1228,1474,'#000',2);L(1240,1474,1354,1474,'#000',2);
T(1140,1487,ctrl,{s:20,a:'c'});T(1302,1487,ko,{s:20,a:'c'});

// ---------- I ----------
T(12,1533,'I',{s:44,b:1});
[[53,'IL-33'],[83,'IL-33'],[110,'IL-33'],[147,'Sorting IL-5<sup>+</sup> ILC2'],[205,'Analysis']].forEach(a=>T(a[0],1628,a[1],{s:19,r:-45}));
[70,96,123.5,165].forEach(x=>Arrow(x,1630,1668,8,19,2.5));Arrow(219.5,1627,1668,8,19,2.5);
L(61,1689,256,1689,'#000',4);
T(16,1678,'Day:',{s:19});[[70.5,'0'],[96,'2'],[123,'4'],[164,'8'],[220,'11']].forEach(a=>T(a[0],1678,a[1],{s:19,a:'c'}));
T(166,1703,'D0',{s:19,a:'c'});T(221,1703,'D3',{s:19,a:'c'});Arrow(165,1713,1742,8,19,2.5);
T(23,1760,'In vitro culture',{s:18.5});T(13,1789,'Growth medium:&nbsp; IL-7 +/- IFNγ',{s:18.5});
svg+=`<path d="M150 1745V1776H257V1745" fill="none" stroke="#999" stroke-width="1.5"/>`;
[0,1,2,3,4,5].forEach(i=>{const x=153+17.3*i;svg+=`<path d="M${x} 1745V1766a7 7 0 0 0 14 0V1745" fill="#fff" stroke="#999" stroke-width="1.5"/><path d="M${x+1} 1752h12V1766a6 6 0 0 1 -12 0Z" fill="#b8b8b8"/><circle cx="${x+7}" cy="1766" r="4.5" fill="#444"/>`;});
function flow(px,ell,dots){
  mk(px,1585,161,162,[24,6,8,16],{type:'scatter',data:{datasets:[{data:xy(dots),backgroundColor:'#777',pointRadius:.7,pointBorderWidth:0}]},
    plugins:[ellipsePlugin(ell.map(e=>({x:e[0],y:e[1],rx:e[2],ry:e[3],stroke:'#666',lw:.7})))],
    options:{scales:{
      x:{min:0,max:161,grid:{drawOnChartArea:false,color:'#555',tickLength:3},border:{color:'#777'},afterBuildTicks:setTicks(flowXTicks),ticks:{font:{size:7},padding:1,color:'#444',maxRotation:0,callback:v=>flowXLabels[flowXTicks.indexOf(v)]}},
      y:{min:0,max:162,grid:{drawOnChartArea:false,color:'#555',tickLength:3},border:{color:'#777'},afterBuildTicks:setTicks(flowYTicks),ticks:{font:{size:7},padding:1,color:'#444',callback:v=>flowYLabels[flowYTicks.indexOf(v)]}}
    }}});
  Box(px,1585,161,162,'#999',1);
}
flow(310,flowEllA,flowDotsA);flow(491,flowEllB,flowDotsB);
[[310,367,471],[491,548,652]].forEach(a=>{L(a[1],1661,a[1],1747,'#000',1.5);Box(a[0],1585.5,a[1]-a[0],75,'#ee1c24',2);Box(a[1],1585.5,a[2]-a[1],75,'#f7941d',2.5);});
T(310,1563,'Lung ILC2 (D3 Culture)',{s:20,i:1});
T(282,1666,'Annexin V',{s:23,a:'c',r:-90});T(316,1772,'Live/Dead',{s:22});
L(418,1774,510,1774,'#000',1.5);svg+=`<path d="M506 1769L516 1774L506 1779Z" fill="#000"/>`;
[[335.5,1597,'13.5%','c'],[446.6,1597,'18.7%','c'],[335,1737,'61.8%','c'],[516.7,1597,'19.8%','c'],[627.4,1597,'42.7%','c'],[516,1737,'33.9%','c']].forEach(a=>T(a[0],a[1],a[2],{s:16,a:'c'}));
T(421,1712,'-IFNγ',{s:22,a:'c'});T(600,1711,'+IFNγ',{s:22,a:'c',c:'#0000ee'});

// ---------- J / K ----------
function dotPlot(left,right,c1,c2,top,y0,yMax,yTicks,means,err,open,fill){
  const unit=c2-c1,xMin=1-(c1-left)/unit,xMax=2+(right-c2)/unit;
  const whisk=(i)=>({type:'scatter',order:2,data:[{x:i+1,y:err[i][0]},{x:i+1,y:err[i][1]}],showLine:true,borderColor:'#555',borderWidth:1.3,pointStyle:'line',pointRadius:7,pointBorderColor:'#555',pointBorderWidth:1.3});
  mk(left,top,right-left,y0-top,[42,12,18,34],{type:'scatter',data:{datasets:[
    {type:'bar',order:3,data:means.map((m,i)=>({x:i+1,y:m})),backgroundColor:'#fff',borderColor:'#666',borderWidth:1.5,borderSkipped:false,barThickness:40,grouped:false},
    whisk(0),whisk(1),
    {type:'scatter',order:1,clip:false,data:open.map(p=>({x:1+p[0],y:p[1]})),backgroundColor:'rgba(255,255,255,.55)',borderColor:'#444',borderWidth:1,pointRadius:5.8},
    {type:'scatter',order:0,clip:false,data:fill.map(p=>({x:2+p[0],y:p[1]})),backgroundColor:'#0a3ce6',borderColor:'#111a55',borderWidth:1,pointRadius:5.8}]},
  options:{scales:{
    x:{min:xMin,max:xMax,offset:false,grid:{offset:false,drawOnChartArea:false,color:'#666',tickLength:5},border:{color:'#666',width:1.5},afterBuildTicks:setTicks([1,2]),ticks:{font:{size:18.5},padding:4,maxRotation:0,color:c=>c.index===0?'#000':'#0000ee',callback:v=>groupLabels[v-1]}},
    y:{min:0,max:yMax,beginAtZero:true,grid:{drawOnChartArea:false,color:'#666',tickLength:5},border:{color:'#666',width:1.5},afterBuildTicks:setTicks(yTicks),ticks:{font:{size:22},padding:2}}
  }}});
}
T(672,1533,'J',{s:44,b:1});T(712,1541,'Lung ILC2',{s:22});
T(1085,1533,'K',{s:44,b:1});T(1127,1542,'Liver ILC2',{s:22});
Box(674.5,1557,180.5,238,'#ed1c24',3);Box(871.5,1557,181,238,'#f7941d',3);
Box(1084.5,1557,181,238,'#ed1c24',3);Box(1277.5,1557,181.5,238,'#f7941d',3);
dotPlot(738,847,768.5,820,1573,1762,40,j1Ticks,j1Means,j1Err,j1Open,j1Fill);
dotPlot(933,1047,964.3,1015.7,1578,1767,41.85,j2Ticks,j2Means,j2Err,j2Open,j2Fill);
dotPlot(1146,1255,1175.7,1227,1575,1763,30,k1Ticks,k1Means,k1Err,k1Open,k1Fill);
dotPlot(1339,1452,1370.3,1421.7,1576,1764,40,k2Ticks,k2Means,k2Err,k2Open,k2Fill);
const ylab=(x,y,s)=>T(x,y,`AnnexinV<sup>+</sup> Live/Dead<sup>${s}</sup> (%)`,{s:18,a:'c',r:-90});
ylab(692,1675,'-');ylab(891,1677,'+');ylab(1103,1674,'-');ylab(1297,1677,'+');
[[768,821,1585,'***',1580],[963,1016,1575,'***',1571],[1175,1228,1573,'**',1568],[1370,1422,1575,'**',1568]].forEach(a=>{L(a[0],a[2],a[1],a[2],'#000',2.5);T((a[0]+a[1])/2,a[4],a[3],{s:22,b:1,a:'c'});});

// svg layer
const sv=document.createElementNS('http://www.w3.org/2000/svg','svg');sv.setAttribute('width',1474);sv.setAttribute('height',1800);sv.innerHTML=svg;page.appendChild(sv);
</script></body></html>
